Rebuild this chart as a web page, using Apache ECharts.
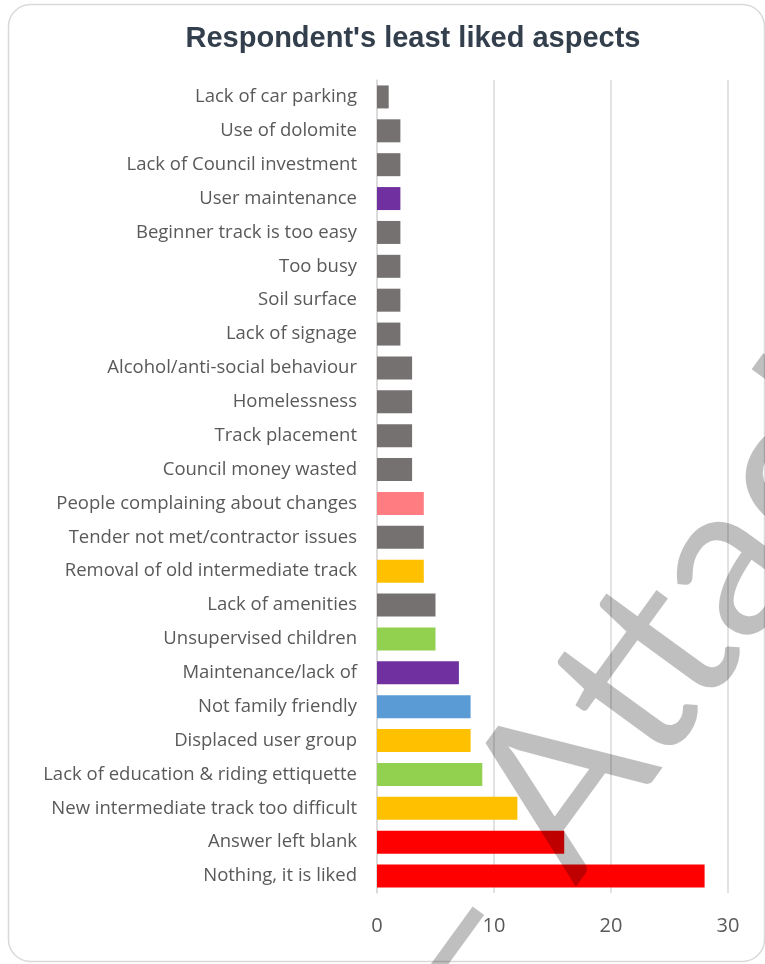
<!DOCTYPE html>
<html>
<head>
<meta charset="utf-8">
<style>
  html, body { margin: 0; padding: 0; background: #ffffff; }
  #chart { width: 765px; height: 964px; }
</style>
<script src="https://cdn.jsdelivr.net/npm/echarts@6/dist/echarts.min.js"></script>
</head>
<body>
<div id="chart"></div>
<script>
// Survey responses: least liked aspects (top to bottom as listed)
const categories = [
  'Lack of car parking',
  'Use of dolomite',
  'Lack of Council investment',
  'User maintenance',
  'Beginner track is too easy',
  'Too busy',
  'Soil surface',
  'Lack of signage',
  'Alcohol/anti-social behaviour',
  'Homelessness',
  'Track placement',
  'Council money wasted',
  'People complaining about changes',
  'Tender not met/contractor issues',
  'Removal of old intermediate track',
  'Lack of amenities',
  'Unsupervised children',
  'Maintenance/lack of',
  'Not family friendly',
  'Displaced user group',
  'Lack of education & riding ettiquette',
  'New intermediate track too difficult',
  'Answer left blank',
  'Nothing, it is liked'
];
const counts = [1, 2, 2, 2, 2, 2, 2, 2, 3, 3, 3, 3, 4, 4, 4, 5, 5, 7, 8, 8, 9, 12, 16, 28];
// theme group of each response
const groups = [
  'other', 'other', 'other', 'maintenance', 'other', 'other', 'other', 'other',
  'other', 'other', 'other', 'other', 'complaints', 'other', 'track', 'other',
  'behaviour', 'maintenance', 'family', 'track', 'behaviour', 'track', 'none', 'none'
];
const groupColors = {
  other: '#767171',
  maintenance: '#7030a0',
  complaints: '#ff7c80',
  track: '#ffc000',
  behaviour: '#92d050',
  family: '#5b9bd5',
  none: '#ff0000'
};
const axisTicks = [0, 10, 20, 30];

const chart = echarts.init(document.getElementById('chart'), null, { renderer: 'canvas' });

const seriesData = counts.map((v, i) => ({
  value: v,
  itemStyle: { color: groupColors[groups[i]] }
}));

chart.setOption({
  backgroundColor: '#ffffff',
  animation: false,
  title: {
    text: "Respondent's least liked aspects",
    left: 408,
    textAlign: 'center',
    top: 19,
    textStyle: {
      fontFamily: 'Liberation Sans, Arial, sans-serif',
      fontWeight: 'bold',
      fontSize: 29,
      color: '#333f4c'
    }
  },
  grid: { left: 377, right: 37, top: 80, bottom: 71, containLabel: false },
  xAxis: {
    type: 'value',
    min: axisTicks[0],
    max: axisTicks[axisTicks.length - 1],
    interval: axisTicks[1] - axisTicks[0],
    axisLine: { show: false },
    axisTick: { show: false },
    splitLine: { show: true, lineStyle: { color: '#d9d9d9', width: 1.5 } },
    axisLabel: {
      margin: 23,
      fontFamily: 'Open Sans, sans-serif',
      fontSize: 20,
      color: '#595959'
    }
  },
  yAxis: {
    type: 'category',
    data: categories,
    inverse: true,
    axisLine: { show: true, lineStyle: { color: '#d9d9d9', width: 1.5 } },
    axisTick: { show: false },
    axisLabel: {
      margin: 20,
      fontFamily: 'Open Sans, sans-serif',
      fontSize: 18.5,
      color: '#595959'
    }
  },
  series: [{
    type: 'bar',
    data: seriesData,
    barWidth: 23,
    z: 3
  }],
  graphic: [
    {
      type: 'rect',
      silent: true,
      z: -10,
      shape: { x: 8.5, y: 4.5, width: 756, height: 957, r: 22 },
      style: { fill: 'none', stroke: '#d9d9d9', lineWidth: 1.5 }
    },
    {
      type: 'text',
      silent: true,
      z: 200,
      x: 499,
      y: 1059,
      rotation: 54 * Math.PI / 180,
      style: {
        text: '\u2013 Attachment',
        font: '220px Lato, sans-serif',
        fill: 'rgba(0,0,0,0.25)',
        align: 'left',
        verticalAlign: 'bottom'
      }
    }
  ]
});
</script>
</body>
</html>
